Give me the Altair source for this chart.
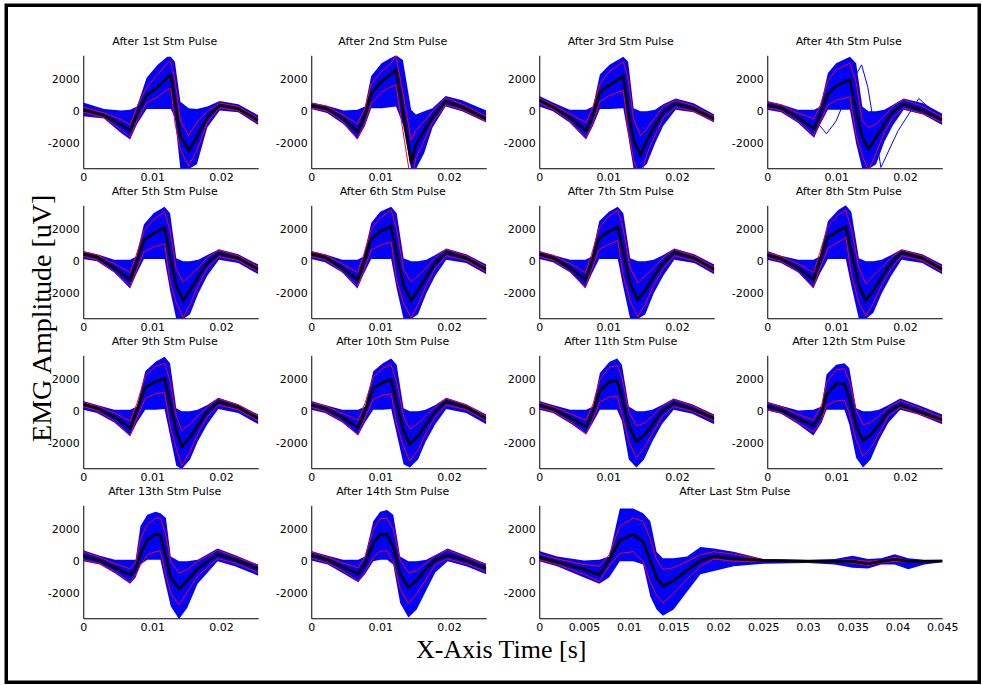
import altair as alt
import pandas as pd

BLUE = "#0000FF"
RED = "#FF0000"

titles = ["After 1st Stm Pulse", "After 2nd Stm Pulse", "After 3rd Stm Pulse", "After 4th Stm Pulse",
          "After 5th Stm Pulse", "After 6th Stm Pulse", "After 7th Stm Pulse", "After 8th Stm Pulse",
          "After 9th Stm Pulse", "After 10th Stm Pulse", "After 11th Stm Pulse", "After 12th Stm Pulse",
          "After 13th Stm Pulse", "After 14th Stm Pulse", "After Last Stm Pulse"]
yticks = [-2000, 0, 2000]
xticks_short = [0, 0.01, 0.02]
xticks_long = [0, 0.005, 0.01, 0.015, 0.02, 0.025, 0.03, 0.035, 0.04, 0.045]
y_domain = [-3550, 3500]
x_domain_short = [0, 0.0254]
x_domain_long = [0, 0.045]
ylabel = "EMG Amplitude [uV]"
xlabel = "X-Axis Time [s]"

# ---- After 1st
t_p1 = [0, 0.003, 0.0055, 0.0068, 0.0078, 0.0092, 0.0108, 0.0122, 0.0127, 0.0133, 0.0141, 0.0153, 0.0165, 0.0180, 0.0198, 0.0225, 0.0254]
mean_p1 = [100, -250, -820, -1200, -150, 1000, 1500, 2100, 2250, 600, -1500, -2450, -1600, -350, 380, 170, -570]
rhi_p1 = [250, -100, -500, -850, 300, 1500, 2300, 3000, 3100, 2000, -600, -1500, -700, 0, 520, 300, -430]
rlo_p1 = [-50, -400, -1150, -1600, -600, 550, 900, 1350, 1450, -700, -2400, -3400, -2450, -700, 230, 40, -720]
bhi_p1 = [550, 150, 50, 100, 300, 2100, 2900, 3400, 3400, 3100, 600, 200, 150, 300, 650, 450, -250]
blo_p1 = [-300, -450, -1350, -1750, -800, 150, 150, 150, 150, -400, -3600, -3600, -3300, -1000, 50, -50, -850]
# ---- After 2nd
t_p2 = [0, 0.0023, 0.0047, 0.0067, 0.0078, 0.0087, 0.0102, 0.0114, 0.0123, 0.0133, 0.0145, 0.0152, 0.0164, 0.0176, 0.0195, 0.0219, 0.0254]
mean_p2 = [360, 170, -460, -1260, -250, 1100, 1850, 2270, 2590, 60, -3260, -2040, -1200, -360, 630, 270, -460]
rhi_p2 = [520, 320, -250, -780, 200, 1700, 2500, 2900, 3450, 1200, -1800, -1200, -600, 0, 850, 450, -300]
rlo_p2 = [200, 20, -700, -1720, -700, 500, 1200, 1500, 1650, -1200, -4500, -2900, -1800, -700, 400, 100, -620]
bhi_p2 = [550, 350, 50, 100, 300, 2200, 3000, 3300, 3500, 3200, 100, -200, 0, 200, 950, 700, 50]
blo_p2 = [150, -100, -800, -1750, -900, 200, 200, 250, 300, -800, -3600, -3600, -2600, -1000, 300, 0, -700]
# ---- After 3rd
t_p3 = [0, 0.002, 0.0044, 0.0068, 0.0078, 0.0088, 0.0102, 0.0122, 0.0129, 0.0137, 0.0147, 0.0156, 0.0168, 0.0180, 0.0198, 0.0224, 0.0254]
mean_p3 = [690, 270, -360, -1200, -250, 1220, 1640, 2200, 60, -1830, -2720, -1830, -880, -40, 480, 170, -460]
rhi_p3 = [820, 400, -150, -700, 300, 1700, 2500, 3100, 2000, -500, -1500, -1100, -400, 300, 700, 350, -330]
rlo_p3 = [500, 130, -600, -1650, -700, 600, 1000, 1300, -1200, -3000, -4200, -2700, -1500, -400, 250, 0, -600]
bhi_p3 = [950, 550, 100, 100, 300, 2300, 2900, 3400, 3100, 200, 0, 0, 100, 450, 800, 500, -200]
blo_p3 = [300, 0, -700, -1750, -900, 150, 150, 200, -1500, -3600, -3600, -3300, -2000, -900, 100, -50, -700]
# ---- After 4th
t_p4 = [0, 0.002, 0.0044, 0.0068, 0.0077, 0.0088, 0.0100, 0.0120, 0.0129, 0.0138, 0.0147, 0.0158, 0.0170, 0.0182, 0.0198, 0.0226, 0.0254]
mean_p4 = [380, 230, -360, -1100, -150, 1100, 1580, 2000, 60, -1620, -2360, -1620, -780, -40, 440, 60, -530]
rhi_p4 = [590, 400, -100, -460, 400, 1900, 2600, 3000, 1800, -600, -1000, -800, -300, 300, 740, 300, -380]
rlo_p4 = [230, 50, -600, -1500, -700, 400, 700, 900, -1500, -2800, -3700, -2600, -1300, -400, 200, -150, -700]
bhi_p4 = [650, 450, 100, 100, 300, 2400, 3000, 3400, 3000, 300, 0, 0, 100, 400, 800, 500, -150]
blo_p4 = [100, -50, -700, -1650, -800, 100, 100, 100, -2000, -3600, -3600, -3300, -1900, -900, 100, -200, -850]
odd_t_p4 = [0, 0.004, 0.0065, 0.0086, 0.0100, 0.0125, 0.0137, 0.0146, 0.0165, 0.0190, 0.0220, 0.0254]
odd_v_p4 = [300, 0, -300, -1400, -600, 2000, 2900, 1500, -3500, -1200, 800, -500]
# ---- After 5th
t_p5 = [0, 0.002, 0.0045, 0.0068, 0.0077, 0.0088, 0.0102, 0.0118, 0.0126, 0.0135, 0.0145, 0.0155, 0.0167, 0.0180, 0.0197, 0.0225, 0.0254]
mean_p5 = [450, 250, -400, -1150, -100, 1300, 1750, 2100, 300, -1500, -2450, -1800, -950, -100, 500, 200, -500]
rhi_p5 = [600, 400, -150, -700, 400, 1900, 2600, 3100, 1900, -500, -1300, -900, -400, 250, 700, 350, -350]
rlo_p5 = [300, 100, -650, -1550, -600, 600, 900, 1100, -1300, -2600, -3500, -2700, -1500, -450, 300, 50, -650]
bhi_p5 = [650, 450, 100, 100, 300, 2300, 3000, 3400, 3000, 200, 0, 0, 100, 400, 750, 450, -200]
blo_p5 = [150, 0, -700, -1700, -800, 150, 150, 150, -1800, -3600, -3600, -3300, -2000, -900, 100, -100, -800]
# ---- After 6th
t_p6 = [0, 0.002, 0.0045, 0.0067, 0.0076, 0.0087, 0.0100, 0.0116, 0.0124, 0.0134, 0.0145, 0.0155, 0.0167, 0.0180, 0.0196, 0.0225, 0.0254]
mean_p6 = [450, 250, -400, -1150, -100, 1400, 1850, 2200, 400, -1500, -2450, -1800, -950, -100, 550, 200, -500]
rhi_p6 = [600, 400, -150, -700, 400, 2000, 2700, 3200, 2000, -500, -1300, -900, -400, 250, 750, 350, -350]
rlo_p6 = [300, 100, -650, -1550, -600, 700, 1000, 1200, -1200, -2600, -3500, -2700, -1500, -450, 350, 50, -650]
bhi_p6 = [650, 450, 100, 100, 300, 2400, 3100, 3400, 3000, 200, 0, 0, 100, 400, 800, 450, -200]
blo_p6 = [150, -50, -700, -1700, -800, 150, 150, 150, -1700, -3600, -3600, -3300, -2000, -900, 100, -100, -800]
# ---- After 7th
t_p7 = [0, 0.002, 0.0045, 0.0067, 0.0076, 0.0087, 0.0101, 0.0114, 0.0122, 0.0132, 0.0143, 0.0154, 0.0166, 0.0180, 0.0196, 0.0225, 0.0254]
mean_p7 = [450, 220, -400, -1150, -50, 1450, 1850, 2150, 600, -1400, -2400, -1800, -950, -100, 550, 200, -500]
rhi_p7 = [600, 380, -150, -700, 450, 2100, 2800, 3200, 2000, -400, -1350, -900, -400, 250, 750, 350, -350]
rlo_p7 = [300, 70, -650, -1600, -550, 750, 1050, 1300, -900, -2500, -3450, -2650, -1500, -450, 350, 50, -650]
bhi_p7 = [650, 400, 100, 100, 300, 2500, 3100, 3400, 3000, 200, 0, 0, 100, 400, 800, 450, -200]
blo_p7 = [150, -50, -700, -1700, -800, 150, 150, 150, -1600, -3600, -3600, -3300, -2000, -900, 100, -100, -800]
# ---- After 8th
t_p8 = [0, 0.002, 0.0045, 0.0067, 0.0076, 0.0088, 0.0103, 0.0114, 0.0122, 0.0133, 0.0143, 0.0154, 0.0166, 0.0180, 0.0195, 0.0225, 0.0254]
mean_p8 = [400, 150, -400, -1150, 0, 1500, 1900, 2150, 600, -1500, -2450, -1800, -1000, -100, 550, 200, -500]
rhi_p8 = [550, 300, -150, -700, 500, 2200, 2900, 3200, 2000, -400, -1400, -900, -400, 250, 700, 350, -350]
rlo_p8 = [250, 0, -650, -1600, -500, 800, 1200, 1500, -800, -2600, -3400, -2600, -1500, -450, 350, 50, -650]
bhi_p8 = [650, 350, 100, 100, 300, 2500, 3200, 3500, 3100, 200, 0, 0, 100, 400, 750, 450, -200]
blo_p8 = [100, -100, -700, -1700, -800, 150, 150, 150, -1500, -3600, -3600, -3200, -2000, -900, 100, -100, -800]
# ---- After 9th
t_p9 = [0, 0.002, 0.0045, 0.0068, 0.0078, 0.0090, 0.0105, 0.0118, 0.0126, 0.0135, 0.0143, 0.0155, 0.0166, 0.0180, 0.0196, 0.0225, 0.0254]
mean_p9 = [450, 200, -350, -1050, 100, 1500, 1850, 2050, 500, -1200, -2200, -1600, -900, 0, 600, 250, -450]
rhi_p9 = [550, 350, -100, -600, 500, 2200, 2800, 3000, 1900, -300, -1200, -800, -300, 300, 800, 400, -300]
rlo_p9 = [300, 50, -600, -1500, -400, 800, 1100, 1200, -900, -2300, -3400, -2500, -1400, -350, 400, 100, -600]
bhi_p9 = [650, 400, 100, 100, 300, 2500, 3100, 3400, 3000, 200, 0, 0, 100, 400, 850, 450, -200]
blo_p9 = [100, -100, -700, -1550, -700, 100, 100, 150, -1500, -3400, -3600, -3000, -1900, -800, 150, -100, -800]
# ---- After 10th
t_p10 = [0, 0.002, 0.0045, 0.0068, 0.0078, 0.0090, 0.0104, 0.0116, 0.0124, 0.0134, 0.0143, 0.0155, 0.0166, 0.0180, 0.0196, 0.0225, 0.0254]
mean_p10 = [400, 180, -380, -1000, 50, 1450, 1800, 2000, 500, -1200, -2050, -1550, -850, 0, 600, 250, -450]
rhi_p10 = [550, 350, -120, -550, 500, 2150, 2700, 2900, 1800, -300, -1100, -750, -300, 300, 800, 400, -300]
rlo_p10 = [250, 0, -620, -1450, -400, 750, 1000, 1100, -800, -2200, -3100, -2400, -1400, -350, 400, 100, -600]
bhi_p10 = [650, 400, 100, 100, 300, 2500, 3000, 3300, 2900, 200, 0, 0, 100, 400, 850, 450, -200]
blo_p10 = [100, -100, -700, -1500, -700, 100, 100, 150, -1400, -3300, -3500, -3000, -1900, -800, 150, -100, -800]
# ---- After 11th
t_p11 = [0, 0.002, 0.0045, 0.0068, 0.0078, 0.0088, 0.0102, 0.0113, 0.0120, 0.0130, 0.0141, 0.0152, 0.0164, 0.0178, 0.0195, 0.0222, 0.0254]
mean_p11 = [380, 150, -400, -950, 0, 1300, 1850, 1900, 900, -900, -1900, -1500, -850, 0, 500, 150, -450]
rhi_p11 = [550, 300, -150, -550, 450, 2000, 2750, 2850, 2100, 0, -900, -750, -300, 300, 750, 350, -300]
rlo_p11 = [200, 0, -650, -1400, -500, 600, 900, 950, -200, -1900, -2900, -2300, -1400, -350, 300, 0, -600]
bhi_p11 = [650, 400, 100, 100, 300, 2400, 3100, 3300, 2900, 300, 0, 0, 100, 400, 800, 450, -200]
blo_p11 = [100, -100, -750, -1450, -700, 100, 100, 100, -600, -3000, -3500, -3000, -1900, -800, 100, -150, -800]
# ---- After 12th
t_p12 = [0, 0.002, 0.0045, 0.0067, 0.0079, 0.0086, 0.0100, 0.0112, 0.0119, 0.0129, 0.0139, 0.0150, 0.0162, 0.0176, 0.0193, 0.0219, 0.0254]
mean_p12 = [300, 100, -450, -880, -100, 1050, 1720, 1720, 840, -840, -1830, -1470, -840, 0, 380, 0, -530]
rhi_p12 = [530, 300, -200, -530, 400, 1800, 2600, 2650, 1900, 100, -840, -700, -300, 250, 670, 250, -400]
rlo_p12 = [100, -100, -700, -1300, -550, 400, 650, 700, -100, -1800, -2800, -2300, -1400, -300, 250, -150, -650]
bhi_p12 = [600, 350, 50, 100, 300, 2300, 2900, 3000, 2700, 200, 0, 0, 100, 400, 800, 400, -200]
blo_p12 = [50, -150, -800, -1500, -700, 100, 100, 100, -800, -2900, -3500, -3000, -1800, -700, 100, -200, -800]
# ---- After 13th
t_p13 = [0, 0.0024, 0.0046, 0.0068, 0.0076, 0.0083, 0.0093, 0.0105, 0.0112, 0.0120, 0.0127, 0.0139, 0.0151, 0.0166, 0.0195, 0.0220, 0.0254]
mean_p13 = [320, 60, -400, -840, -460, 480, 1330, 1680, 1640, 270, -990, -1730, -1200, -460, 440, 100, -460]
rhi_p13 = [590, 250, -150, -460, -100, 1400, 2300, 2700, 2700, 1600, 0, -740, -500, 0, 700, 300, -250]
rlo_p13 = [100, -150, -650, -1300, -850, -250, 400, 600, 650, -900, -2000, -2720, -1900, -900, 170, -100, -700]
bhi_p13 = [700, 350, 100, 100, 100, 2200, 2900, 3100, 3000, 2700, 300, 0, 0, 100, 800, 400, -200]
blo_p13 = [0, -200, -750, -1400, -1000, -200, 100, 100, 100, -1500, -2800, -3600, -2900, -1400, 0, -300, -900]
# ---- After 14th
t_p14 = [0, 0.0024, 0.0046, 0.0068, 0.0078, 0.0090, 0.0100, 0.0110, 0.0119, 0.0129, 0.0141, 0.0153, 0.0167, 0.0180, 0.0198, 0.0225, 0.0254]
mean_p14 = [380, 100, -350, -780, -150, 1120, 1680, 1680, 900, -780, -1620, -1200, -460, 100, 380, 60, -450]
rhi_p14 = [600, 250, -100, -400, 300, 2000, 2650, 2700, 2000, 100, -700, -600, -100, 350, 700, 250, -200]
rlo_p14 = [200, -100, -600, -1250, -650, 250, 650, 650, 0, -1700, -2650, -2000, -1100, -200, 150, -150, -650]
bhi_p14 = [650, 350, 100, 100, 300, 2500, 3100, 3200, 2900, 300, 0, 0, 100, 400, 800, 350, -150]
blo_p14 = [50, -200, -750, -1300, -800, 0, 100, 100, -200, -2600, -3500, -3000, -1800, -700, 0, -300, -800]
# ---- After Last
t_pl = [0, 0.002, 0.005, 0.0067, 0.0078, 0.009, 0.0105, 0.0116, 0.0124, 0.0131, 0.0138, 0.015, 0.0165, 0.018, 0.0195, 0.0217, 0.025, 0.030, 0.033, 0.035, 0.0367, 0.0382, 0.0397, 0.0412, 0.043, 0.045]
mean_pl = [250, -50, -500, -840, 100, 1300, 1680, 1220, 60, -990, -1540, -1200, -570, 60, 320, 170, 60, 0, 0, 0, -150, 0, 130, 0, 0, 20]
rhi_pl = [450, 150, -200, -300, 400, 2200, 2700, 2500, 1400, 100, -500, -400, 0, 400, 600, 450, 100, 30, 50, 100, 0, 50, 250, 50, 30, 50]
rlo_pl = [100, -200, -800, -1250, -300, 500, 600, 0, -1300, -2100, -2600, -2000, -1100, -300, 150, 0, 0, -50, -50, -100, -250, -80, 0, -50, -30, 0]
bhi_pl = [650, 300, 50, 100, 300, 3300, 3300, 3000, 2500, 600, 200, 200, 300, 900, 800, 600, 150, 100, 150, 350, 150, 200, 450, 200, 100, 100]
blo_pl = [0, -300, -1000, -1400, -1000, 0, 0, -200, -2200, -3000, -3400, -3000, -1900, -800, -600, -300, -150, -100, -200, -400, -450, -200, -200, -500, -200, -50]

series = [
    (t_p1, mean_p1, rhi_p1, rlo_p1, bhi_p1, blo_p1),
    (t_p2, mean_p2, rhi_p2, rlo_p2, bhi_p2, blo_p2),
    (t_p3, mean_p3, rhi_p3, rlo_p3, bhi_p3, blo_p3),
    (t_p4, mean_p4, rhi_p4, rlo_p4, bhi_p4, blo_p4),
    (t_p5, mean_p5, rhi_p5, rlo_p5, bhi_p5, blo_p5),
    (t_p6, mean_p6, rhi_p6, rlo_p6, bhi_p6, blo_p6),
    (t_p7, mean_p7, rhi_p7, rlo_p7, bhi_p7, blo_p7),
    (t_p8, mean_p8, rhi_p8, rlo_p8, bhi_p8, blo_p8),
    (t_p9, mean_p9, rhi_p9, rlo_p9, bhi_p9, blo_p9),
    (t_p10, mean_p10, rhi_p10, rlo_p10, bhi_p10, blo_p10),
    (t_p11, mean_p11, rhi_p11, rlo_p11, bhi_p11, blo_p11),
    (t_p12, mean_p12, rhi_p12, rlo_p12, bhi_p12, blo_p12),
    (t_p13, mean_p13, rhi_p13, rlo_p13, bhi_p13, blo_p13),
    (t_p14, mean_p14, rhi_p14, rlo_p14, bhi_p14, blo_p14),
    (t_pl, mean_pl, rhi_pl, rlo_pl, bhi_pl, blo_pl),
]

PW, PH = 175, 113
COLSP, ROWSP = 53, 37
WIDE = 2 * PW + COLSP
LABEL_EXPR = "'' + datum.value"


def make_panel(i):
    t, mean, rhi, rlo, bhi, blo = series[i]
    last = i == 14
    df = pd.DataFrame({"t": t, "mean": mean, "rhi": rhi, "rlo": rlo, "bhi": bhi, "blo": blo})
    if last:
        xs = alt.Scale(domain=x_domain_long, range=[0, WIDE], nice=False, zero=False)
        xvals = xticks_long
        full_w = WIDE
    else:
        xs = alt.Scale(domain=x_domain_short, nice=False, zero=False)
        xvals = xticks_short
        full_w = PW
    clip = not last
    xaxis = alt.Axis(values=xvals, labelExpr=LABEL_EXPR, title=None, labelFlush=False, labelPadding=3)
    yaxis = alt.Axis(values=yticks, labelExpr=LABEL_EXPR, title=None, labelPadding=4)
    ys = alt.Scale(domain=y_domain, nice=False, zero=False)

    def X():
        return alt.X("t:Q", scale=xs, axis=xaxis)

    def Y(f):
        return alt.Y(f + ":Q", scale=ys, axis=yaxis)

    base = alt.Chart(df)
    layers = [
        base.mark_area(color=BLUE, opacity=1, clip=clip).encode(x=X(), y=Y("blo"), y2="bhi:Q"),
    ]
    if i == 3:
        odd = pd.DataFrame({"t": odd_t_p4, "v": odd_v_p4})
        layers.append(alt.Chart(odd).mark_line(color=BLUE, strokeWidth=1, clip=True).encode(x=X(), y=Y("v")))
    layers += [
        base.mark_line(color=RED, strokeWidth=1, clip=clip).encode(x=X(), y=Y("rhi")),
        base.mark_line(color=RED, strokeWidth=1, clip=clip).encode(x=X(), y=Y("rlo")),
        base.mark_line(color="black", strokeWidth=2.6, clip=clip).encode(x=X(), y=Y("mean")),
    ]
    # panel title as a text mark above the plot area
    tdf = pd.DataFrame({"label": [titles[i]]})
    layers.append(alt.Chart(tdf).mark_text(font="DejaVu Sans", fontSize=11, align="center",
                                           baseline="alphabetic", color="black")
                  .encode(x=alt.value(full_w / 2 - 6), y=alt.value(-10), text="label:N"))
    if i == 0:
        layers.append(alt.Chart(tdf).mark_rect(fill="white", fillOpacity=0, stroke="black", strokeWidth=3.5)
                      .encode(x=alt.value(-77), x2=alt.value(896), y=alt.value(-50), y2=alt.value(627)))
    if i == 4:
        yl = pd.DataFrame({"label": [ylabel]})
        layers.append(alt.Chart(yl).mark_text(angle=270, font="Liberation Serif", fontSize=28,
                                              align="center", baseline="middle", color="black")
                      .encode(x=alt.value(-40), y=alt.value(113), text="label:N"))
    if i == 13:
        xl = pd.DataFrame({"label": [xlabel]})
        layers.append(alt.Chart(xl).mark_text(font="Liberation Serif", fontSize=26,
                                              align="center", baseline="alphabetic", color="black")
                      .encode(x=alt.value(190), y=alt.value(153), text="label:N"))
    return alt.layer(*layers).properties(width=PW, height=PH)


panels = [make_panel(i) for i in range(15)]

chart = alt.concat(
    *panels, columns=4, spacing={"row": ROWSP, "column": COLSP}, bounds="flush", align="all",
    padding={"left": 4.25, "top": 3.25, "right": 0, "bottom": 0},
).configure_view(strokeWidth=0).configure_axis(
    domainColor="black", domainWidth=1, labelColor="black", labelFont="DejaVu Sans",
    labelFontSize=11, grid=False, ticks=False,
).properties(background="white")

chart.save("out.html", embed_options={"renderer": "svg", "actions": False})
